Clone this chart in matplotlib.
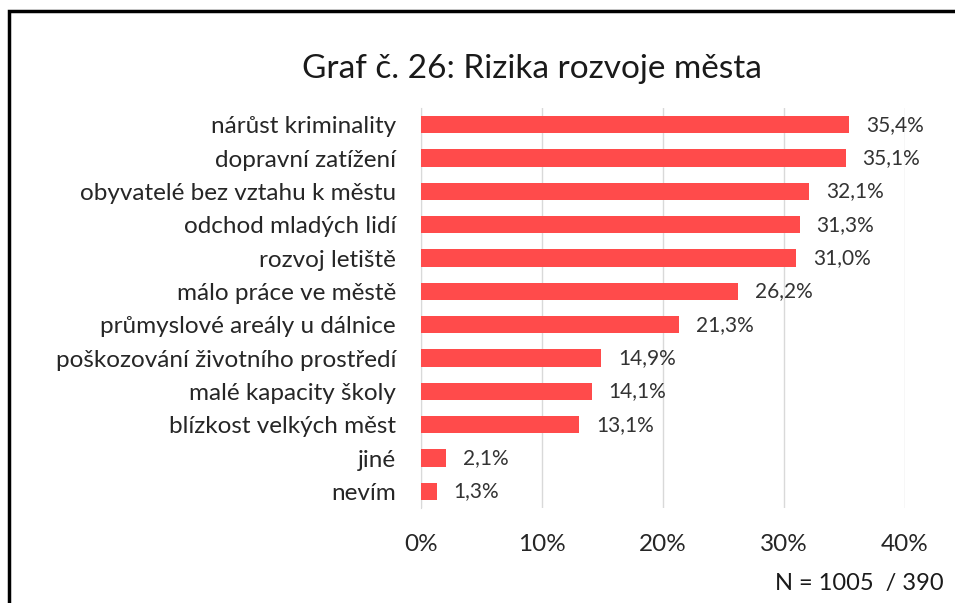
import matplotlib
matplotlib.use("Agg")
import matplotlib.pyplot as plt
from matplotlib.patches import Rectangle

categories = [
    "nárůst kriminality",
    "dopravní zatížení",
    "obyvatelé bez vztahu k městu",
    "odchod mladých lidí",
    "rozvoj letiště",
    "málo práce ve městě",
    "průmyslové areály u dálnice",
    "poškozování životního prostředí",
    "malé kapacity školy",
    "blízkost velkých měst",
    "jiné",
    "nevím",
]
values = [35.4, 35.1, 32.1, 31.3, 31.0, 26.2, 21.3, 14.9, 14.1, 13.1, 2.1, 1.3]
xticks = [0, 10, 20, 30, 40]

plt.rcParams['font.family'] = ['Lato', 'DejaVu Sans']

fig = plt.figure(figsize=(9.55, 6.03), dpi=100)
ax = fig.add_axes([0.4408, 0.1575, 0.5068, 0.6634])

ypos = list(range(len(categories)))
ax.barh(ypos, values, height=0.52, color="#FF4B4B", zorder=3)
ax.set_ylim(len(categories) - 0.5, -0.5)
ax.set_xlim(0, 40)

for y, v in zip(ypos, values):
    ax.text(v + 1.4, y, f"{v:.1f}%".replace(".", ","), va="center", ha="left",
            fontsize=15, color="#333333")

ax.set_yticks(ypos)
ax.set_yticklabels(categories, fontsize=17.5, color="#262626")
ax.set_xticks(xticks)
ax.set_xticklabels([f"{t}%" for t in xticks], fontsize=17.5, color="#262626")
ax.tick_params(axis="y", length=0, pad=18)
ax.tick_params(axis="x", length=0, pad=19)
ax.grid(axis="x", color="#d9d9d9", linewidth=1, zorder=0)
for s in ["top", "right", "bottom"]:
    ax.spines[s].set_visible(False)
ax.spines["left"].set_color("#d9d9d9")

fig.text(0.557, 0.885, "Graf č. 26: Rizika rozvoje města", ha="center", va="center",
         fontsize=24, color="#1a1a1a")
fig.text(0.988, 0.033, "N = 1005  / 390", ha="right", va="center",
         fontsize=17, color="#1a1a1a")

# outer frame (cut off at right and bottom like the source)
fig.patches.append(Rectangle((9 / 955, -0.05), 1.1, 1 - 11 / 603 + 0.05,
                             transform=fig.transFigure, fill=False,
                             edgecolor="black", linewidth=2.5))

fig.savefig("out.png", dpi=100)
